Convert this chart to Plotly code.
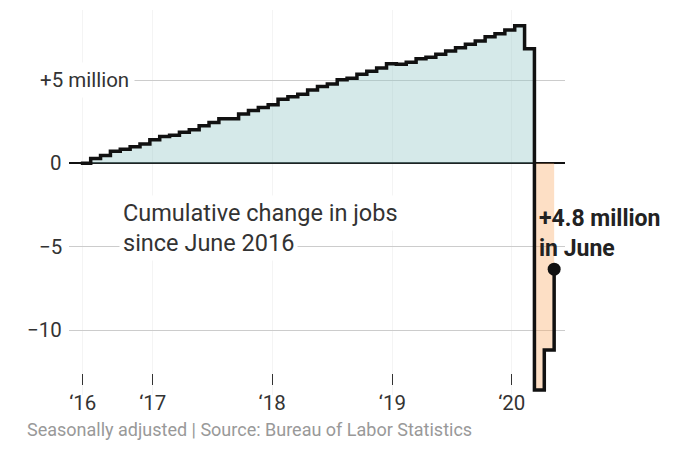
import numpy as np
import pandas as pd
import plotly.graph_objects as go

# ---------------- data (millions of jobs, cumulative change since June 2016) ----------------
months = pd.date_range("2016-06-01", periods=49, freq="MS").strftime("%b %Y").tolist()
cumulative_jobs = [
    0.00, 0.29, 0.47, 0.72, 0.84, 1.00, 1.16,                     # Jun-Dec 2016
    1.42, 1.61, 1.69, 1.86, 2.02, 2.26, 2.45, 2.67, 2.68, 2.96, 3.17, 3.35,   # 2017
    3.52, 3.85, 4.00, 4.15, 4.40, 4.61, 4.76, 5.02, 5.10, 5.35, 5.52, 5.72,   # 2018
    5.97, 5.94, 6.07, 6.28, 6.36, 6.54, 6.74, 6.94, 7.15, 7.34, 7.60, 7.78,   # 2019
    8.00, 8.25, 6.87, -13.60, -11.20, -6.35,                      # Jan-Jun 2020
]
x_tick_pos = [0.2, 7.3, 19.4, 31.6, 43.7]
x_tick_text = ["\u201816", "\u201817", "\u201818", "\u201819", "\u201820"]
y_grid_vals = [5, -5, -10]
y_label_vals = [5, 0, -5, -10]
y_label_text = ["+5 million", "0", "\u22125", "\u221210"]
title_lines = ["Cumulative change in jobs", "since June 2016"]
callout_text = "+4.8 million<br>in June"
source_text = "Seasonally adjusted | Source: Bureau of Labor Statistics"

# ---------------- layout geometry (window pixels; page body has an 8px margin) ----------------
OFF = 8
W, H = 690 - OFF, 453 - OFF
PLOT_L, PLOT_R, PLOT_T, PLOT_B = 69, 565, 10, 395          # window px
L, R, T, B = PLOT_L - OFF, 690 - PLOT_R, PLOT_T - OFF, 453 - PLOT_B
PW, PH = PLOT_R - PLOT_L, PLOT_B - PLOT_T
X_RANGE = [-1.2, 49.1]
Y_RANGE = [-13.9, 9.2]
FONT = "Roboto"
TXT = "#333333"


def px_x(p):
    return (p - PLOT_L) / PW


def px_y(p):
    return (PLOT_B - p) / PH


idx = np.arange(len(cumulative_jobs))
vals = np.array(cumulative_jobs)
pos = np.clip(vals, 0, None)
neg = np.clip(vals, None, 0)

fig = go.Figure()
fig.add_trace(go.Scatter(x=idx, y=pos, mode="lines", line=dict(shape="hv", width=0),
                         fill="tozeroy", fillcolor="rgba(150,200,200,0.4)", hoverinfo="skip"))
fig.add_trace(go.Scatter(x=idx, y=neg, mode="lines", line=dict(shape="hv", width=0),
                         fill="tozeroy", fillcolor="rgba(250,175,110,0.4)", hoverinfo="skip"))
fig.add_trace(go.Scatter(x=idx, y=vals, mode="lines", line=dict(shape="hv", color="#111111", width=3.5),
                         customdata=months, hovertemplate="%{customdata}: %{y:.2f}M<extra></extra>"))
fig.add_trace(go.Scatter(x=[idx[-1]], y=[vals[-1]], mode="markers",
                         marker=dict(size=13, color="#111111"), hoverinfo="skip"))
# invisible trace to carry the tick axis
fig.add_trace(go.Scatter(x=x_tick_pos, y=[0] * len(x_tick_pos), xaxis="x2", mode="markers",
                         marker=dict(opacity=0), hoverinfo="skip"))

annotations = []
for v, t in zip(y_label_vals, y_label_text):
    if v == 5:
        annotations.append(dict(x=px_x(34), xref="paper", xanchor="left", y=v, yref="y", yanchor="middle",
                                text=t, showarrow=False, bgcolor="white", borderpad=5,
                                font=dict(family=FONT, size=20.5, color=TXT)))
    else:
        annotations.append(dict(x=px_x(64), xref="paper", xanchor="right", y=v, yref="y", yanchor="middle",
                                text=t, showarrow=False,
                                font=dict(family=FONT, size=20.5, color=TXT)))

# title lines (second first so the first line draws over it)
title_centers_px = [213, 243]
for line, cy in reversed(list(zip(title_lines, title_centers_px))):
    annotations.append(dict(x=px_x(119), xref="paper", xanchor="left", y=px_y(cy), yref="paper",
                            yanchor="middle", text=line, showarrow=False, bgcolor="white", borderpad=3,
                            align="left", font=dict(family=FONT, size=23.5, color=TXT)))

annotations.append(dict(x=px_x(537), xref="paper", xanchor="left", y=px_y(233), yref="paper",
                        yanchor="middle", text=callout_text, showarrow=False, align="left",
                        font=dict(family=FONT, size=23, color="#222222", weight="bold")))
annotations.append(dict(x=px_x(25), xref="paper", xanchor="left", y=px_y(430), yref="paper",
                        yanchor="middle", text=source_text, showarrow=False, align="left",
                        font=dict(family=FONT, size=18, color="#999999")))

fig.update_layout(
    width=W, height=H,
    margin=dict(l=L, r=R, t=T, b=B, autoexpand=False),
    paper_bgcolor="white", plot_bgcolor="white",
    showlegend=False,
    font=dict(family=FONT, color=TXT),
    xaxis=dict(range=X_RANGE, tickvals=x_tick_pos, showticklabels=False, ticks="",
               showgrid=True, gridcolor="#f4f4f4", zeroline=False, showline=False, fixedrange=True),
    xaxis2=dict(range=X_RANGE, overlaying="x", anchor="free", position=px_y(373), side="bottom",
                tickvals=x_tick_pos, ticktext=x_tick_text, ticks="outside", ticklen=11,
                tickcolor=TXT, tickwidth=1, showgrid=False, zeroline=False, showline=False,
                tickfont=dict(family=FONT, size=20.5, color=TXT), fixedrange=True),
    yaxis=dict(range=Y_RANGE, tickvals=y_grid_vals, showticklabels=False, ticks="",
               showgrid=True, gridcolor="#cccccc", gridwidth=1,
               zeroline=True, zerolinecolor="#111111", zerolinewidth=1.5, fixedrange=True),
    annotations=annotations,
)

fig.write_html("out.html")
